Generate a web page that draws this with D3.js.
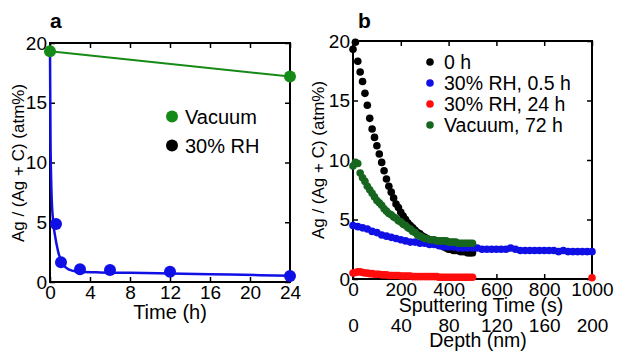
<!DOCTYPE html>
<html>
<head>
<meta charset="utf-8">
<script src="https://cdn.jsdelivr.net/npm/d3@7"></script>
<style>
  body { margin: 0; background: #fff; }
  svg { display: block; font-family: Arial, "Liberation Sans", sans-serif; }
</style>
</head>
<body>
<div id="chart"></div>
<script>
// ---- panel a: Ag fraction vs storage time ----
const vacTime = [0, 24];
const vacValue = [19.3, 17.2];
const rhTime = [0.6, 1.1, 3, 6, 12, 24];
const rhValue = [4.85, 1.65, 1.06, 1.0, 0.86, 0.5];
// fitted curve through the RH points
const rhFitTime = [0, 0.05, 0.15, 0.3, 0.5, 0.8, 1.2, 1.6, 2.2, 3, 5, 8, 12, 18, 24];
const rhFitValue = [19.3, 12, 7.5, 5.2, 3.9, 2.6, 1.6, 1.2, 0.95, 0.86, 0.8, 0.77, 0.72, 0.62, 0.52];

// ---- panel b: depth profiles (sputtering time in s) ----
const t0hValue = [19.3, 19.9, 18.3, 17.4, 16.6, 15.6, 14.6, 13.5, 12.6, 11.9, 11.2, 10.5, 9.8, 9.1, 8.4, 7.8,
  7.3, 6.8, 6.3, 6.0, 5.6, 5.3, 5.0, 4.7, 4.5, 4.3, 4.1, 3.9, 3.8, 3.6, 3.5, 3.4, 3.3, 3.2, 3.1, 3.0,
  2.9, 2.8, 2.7, 2.6, 2.5, 2.5, 2.4, 2.4, 2.4, 2.3, 2.3, 2.3, 2.2, 2.2, 2.2];
const vac72Value = [9.5, 9.8, 9.7, 8.9, 8.5, 8.2, 7.8, 7.5, 7.2, 6.9, 6.6, 6.4, 6.2, 5.9, 5.7, 5.5, 5.4,
  5.2, 5.1, 4.9, 4.8, 4.6, 4.5, 4.3, 4.2, 4.0, 3.9, 3.7, 3.6, 3.5, 3.4, 3.4, 3.3, 3.3, 3.3, 3.2, 3.2,
  3.2, 3.2, 3.2, 3.1, 3.1, 3.1, 3.1, 3.0, 3.0, 3.0, 3.0, 3.0, 3.0, 3.0];
const rh24Value = [0.5, 0.55, 0.6, 0.6, 0.55, 0.5, 0.5, 0.45, 0.45, 0.4, 0.4, 0.4, 0.35, 0.35, 0.35, 0.3,
  0.3, 0.3, 0.3, 0.3, 0.25, 0.25, 0.25, 0.25, 0.25, 0.2, 0.2, 0.2, 0.2, 0.2, 0.2, 0.2, 0.2, 0.2, 0.2,
  0.2, 0.15, 0.15, 0.15, 0.15, 0.15, 0.15, 0.15, 0.15, 0.15, 0.15, 0.15, 0.15, 0.15, 0.15, 0.15, 0.1];
const rh05Value = [4.5, 4.4, 4.3, 4.2, 4.0, 3.9, 3.7, 3.6, 3.5, 3.4, 3.3, 3.2, 3.1, 3.1, 3.0, 3.0, 2.9,
  2.9, 2.8, 2.7, 2.7, 2.7, 2.6, 2.6, 2.6, 2.6, 2.6, 2.5, 2.5, 2.5, 2.5, 2.5, 2.5, 2.6, 2.5, 2.4, 2.4,
  2.4, 2.4, 2.4, 2.4, 2.4, 2.4, 2.3, 2.4, 2.3, 2.3, 2.3, 2.3, 2.3, 2.3];
// sampling times: 10 s steps to 500 s (red has an extra point at 1000 s), 20 s steps for the 0.5 h run
const t0hTime = d3.range(0, 501, 10);
const vac72Time = d3.range(0, 501, 10);
const rh24Time = d3.range(0, 501, 10).concat([1000]);
const rh05Time = d3.range(0, 1001, 20);

const legendB = [
  { label: "0 h", color: "#000000" },
  { label: "30% RH, 0.5 h", color: "#1010e6" },
  { label: "30% RH, 24 h", color: "#ff0d0d" },
  { label: "Vacuum, 72 h", color: "#17661f" },
];

const width = 617, height = 352;
const svg = d3.select("#chart").append("svg")
  .attr("width", width).attr("height", height);
svg.append("rect").attr("width", width).attr("height", height).attr("fill", "#fff");

const yLabel = "Ag / (Ag + C) (atm%)";

// draws the boxed frame with inward ticks on all sides
function frame(x, y, xTicks, yTicks) {
  const [x0, x1] = x.range(), [y0, y1] = y.range();
  const g = svg.append("g");
  const style = (sel) => {
    sel.select(".domain").remove();
    sel.selectAll(".tick line").attr("stroke-width", 1.5);
    sel.selectAll("text").attr("font-size", 19).attr("fill", "#000");
  };
  g.append("g").attr("transform", `translate(0,${y0})`)
    .call(d3.axisBottom(x).tickValues(xTicks).tickSize(-5).tickPadding(3).tickFormat(d3.format("d")))
    .call(style);
  g.append("g").attr("transform", `translate(0,${y1})`)
    .call(d3.axisTop(x).tickValues(xTicks).tickSize(-5).tickFormat(""))
    .call(style);
  g.append("g").attr("transform", `translate(${x0},0)`)
    .call(d3.axisLeft(y).tickValues(yTicks).tickSize(-5).tickPadding(3))
    .call(style);
  g.append("g").attr("transform", `translate(${x1},0)`)
    .call(d3.axisRight(y).tickValues(yTicks).tickSize(-5).tickFormat(""))
    .call(style);
  g.append("rect")
    .attr("x", x0).attr("y", y1)
    .attr("width", x1 - x0).attr("height", y0 - y1)
    .attr("fill", "none").attr("stroke", "#000").attr("stroke-width", 2);
  return g;
}

// ---------- panel a ----------
const xa = d3.scaleLinear([0, 24], [50, 290]);
const ya = d3.scaleLinear([0, 20], [282, 43]);
frame(xa, ya, d3.range(0, 25, 4), [0, 5, 10, 15, 20]);

svg.append("text").attr("x", 50).attr("y", 28)
  .attr("font-size", 21).attr("font-weight", "bold").text("a");
svg.append("text").attr("x", 170).attr("y", 319)
  .attr("text-anchor", "middle").attr("font-size", 20).text("Time (h)");
svg.append("text").attr("transform", "translate(24,163) rotate(-90)")
  .attr("text-anchor", "middle").attr("font-size", 17).text(yLabel);

const lineA = d3.line().x(d => xa(d[0])).y(d => ya(d[1]));
svg.append("path")
  .attr("d", lineA.curve(d3.curveMonotoneX)(d3.zip(rhFitTime, rhFitValue)))
  .attr("fill", "none").attr("stroke", "#1010e6").attr("stroke-width", 2.5);
svg.append("g").selectAll("circle")
  .data(d3.zip(rhTime, rhValue)).join("circle")
  .attr("cx", d => xa(d[0])).attr("cy", d => ya(d[1])).attr("r", 6)
  .attr("fill", "#1010e6");
svg.append("path")
  .attr("d", d3.line().x(d => xa(d[0])).y(d => ya(d[1]))(d3.zip(vacTime, vacValue)))
  .attr("fill", "none").attr("stroke", "#168a16").attr("stroke-width", 2);
svg.append("g").selectAll("circle")
  .data(d3.zip(vacTime, vacValue)).join("circle")
  .attr("cx", d => xa(d[0])).attr("cy", d => ya(d[1])).attr("r", 6)
  .attr("fill", "#168a16");

const legA = svg.append("g");
[["Vacuum", "#168a16"], ["30% RH", "#000"]].forEach(([label, c], i) => {
  legA.append("circle").attr("cx", 172).attr("cy", 116.5 + i * 29).attr("r", 6).attr("fill", c);
  legA.append("text").attr("x", 185).attr("y", 116.5 + i * 29).attr("dy", "0.36em")
    .attr("font-size", 20).text(label);
});

// ---------- panel b ----------
const xb = d3.scaleLinear([0, 1000], [353, 592]);
const yb = d3.scaleLinear([0, 20], [279, 41]);
const depth = d3.scaleLinear([0, 200], [353, 592]);
frame(xb, yb, d3.range(0, 1001, 200), [0, 5, 10, 15, 20]);

svg.append("g").attr("transform", "translate(0,279)")
  .call(d3.axisBottom(depth).tickValues(d3.range(0, 201, 40)).tickSize(0).tickPadding(40))
  .call(g => g.select(".domain").remove())
  .call(g => g.selectAll("text").attr("font-size", 19).attr("fill", "#000"));

svg.append("text").attr("x", 358).attr("y", 28)
  .attr("font-size", 21).attr("font-weight", "bold").text("b");
svg.append("text").attr("x", 481).attr("y", 312)
  .attr("text-anchor", "middle").attr("font-size", 19.5).text("Sputtering Time (s)");
svg.append("text").attr("x", 478).attr("y", 347)
  .attr("text-anchor", "middle").attr("font-size", 19.5).text("Depth (nm)");
svg.append("text").attr("transform", "translate(324,160) rotate(-90)")
  .attr("text-anchor", "middle").attr("font-size", 17).text(yLabel);

const seriesB = [
  { t: t0hTime, v: t0hValue, color: legendB[0].color },
  { t: rh24Time, v: rh24Value, color: legendB[2].color },
  { t: rh05Time, v: rh05Value, color: legendB[1].color },
  { t: vac72Time, v: vac72Value, color: legendB[3].color },
];
seriesB.forEach(s => {
  svg.append("g").selectAll("circle")
    .data(d3.zip(s.t, s.v)).join("circle")
    .attr("cx", d => xb(d[0])).attr("cy", d => yb(d[1])).attr("r", 3.8)
    .attr("fill", s.color);
});

const legB = svg.append("g");
legendB.forEach((d, i) => {
  legB.append("circle").attr("cx", 430).attr("cy", 62 + i * 21).attr("r", 3.8).attr("fill", d.color);
  legB.append("text").attr("x", 444).attr("y", 62 + i * 21).attr("dy", "0.36em")
    .attr("font-size", 19.5).text(d.label);
});
</script>
</body>
</html>
